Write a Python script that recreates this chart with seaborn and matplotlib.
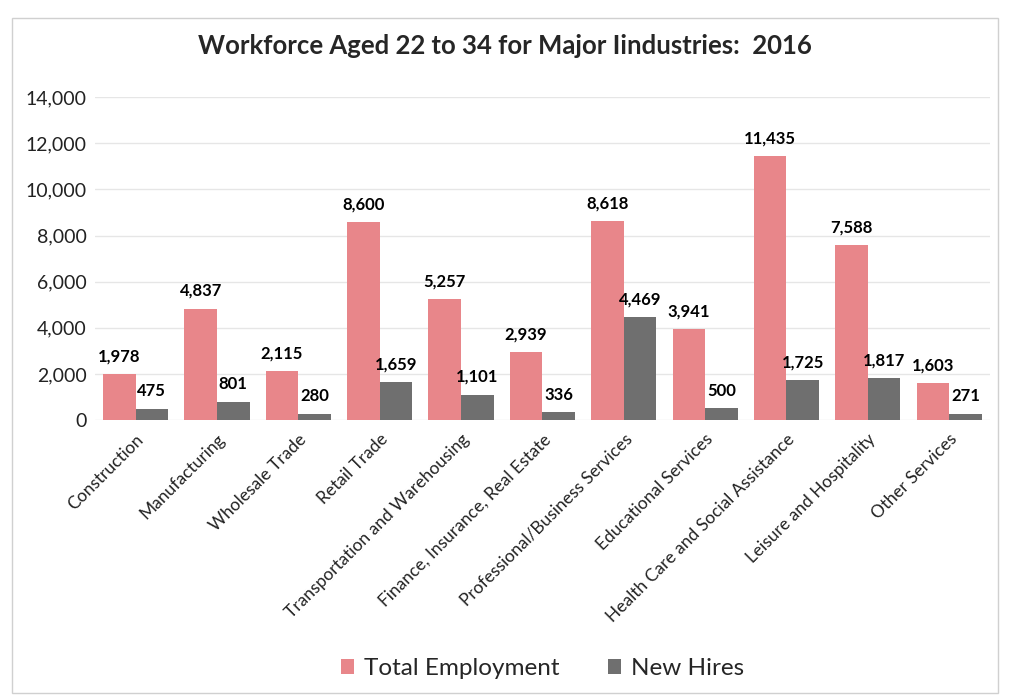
import pandas as pd
import numpy as np
import matplotlib
matplotlib.use('Agg')
import matplotlib.pyplot as plt
import seaborn as sns

# ------------------------------------------------------------
# data
# ------------------------------------------------------------
industries = [
    "Construction", "Manufacturing", "Wholesale Trade", "Retail Trade",
    "Transportation and Warehousing", "Finance, Insurance, Real Estate",
    "Professional/Business Services", "Educational Services",
    "Health Care and Social Assistance", "Leisure and Hospitality",
    "Other Services",
]
total_employment = [1978, 4837, 2115, 8600, 5257, 2939, 8618, 3941, 11435, 7588, 1603]
new_hires = [475, 801, 280, 1659, 1101, 336, 4469, 500, 1725, 1817, 271]
series_names = ["Total Employment", "New Hires"]
y_ticks = [0, 2000, 4000, 6000, 8000, 10000, 12000, 14000]

df = pd.DataFrame({
    "industry": industries * 2,
    "value": total_employment + new_hires,
    "series": [series_names[0]] * len(industries) + [series_names[1]] * len(industries),
})

sns.set_style("white")
plt.rcParams['font.family'] = ['Lato', 'DejaVu Sans']

fig = plt.figure(figsize=(10.1, 7.0), dpi=100)
ax = fig.add_axes([0.094, 0.40, 0.886, 0.461])

palette = {"Total Employment": "#E8868A", "New Hires": "#6F6F6F"}
sns.barplot(data=df, x="industry", y="value", hue="series", palette=palette,
            width=0.8, gap=0, saturation=1, linewidth=0, ax=ax, legend=True)

for cont in ax.containers:
    ax.bar_label(cont, labels=[f"{v:,.0f}" for v in cont.datavalues],
                 padding=7, fontsize=12, fontweight='bold', color='black')

ax.set_ylim(0, 14000)
ax.set_yticks(y_ticks)
ax.set_yticklabels([f"{t:,}" for t in y_ticks], fontsize=14, color='#222222')
ax.yaxis.grid(True, color='#e6e6e6', linewidth=1)
ax.set_axisbelow(True)
ax.set_xlim(-0.5, len(industries) - 0.5)
ax.set_xticks(range(len(industries)))
ax.set_xticklabels(industries, rotation=45, ha='right', rotation_mode='anchor',
                   fontsize=12.5, color='#222222')
ax.tick_params(axis='both', length=0, pad=6)
ax.tick_params(axis='x', pad=8)
ax.set_xlabel("")
ax.set_ylabel("")
for s in ax.spines.values():
    s.set_visible(False)

ax.legend(loc='lower center', bbox_to_anchor=(0.5, -0.87), ncol=2, frameon=False,
          fontsize=17.5, handlelength=0.55, handleheight=0.55, handletextpad=0.4,
          columnspacing=2.0)

fig.text(0.5, 0.935, "Workforce Aged 22 to 34 for Major Iindustries:  2016",
         ha='center', va='center', fontsize=18.5, fontweight='bold')

# thin frame round the whole chart
fig.patches.append(plt.Rectangle((0.012, 0.01), 0.976, 0.965, transform=fig.transFigure,
                                 fill=False, edgecolor='#d0d0d0', linewidth=1))

plt.savefig("out.png", dpi=100)
